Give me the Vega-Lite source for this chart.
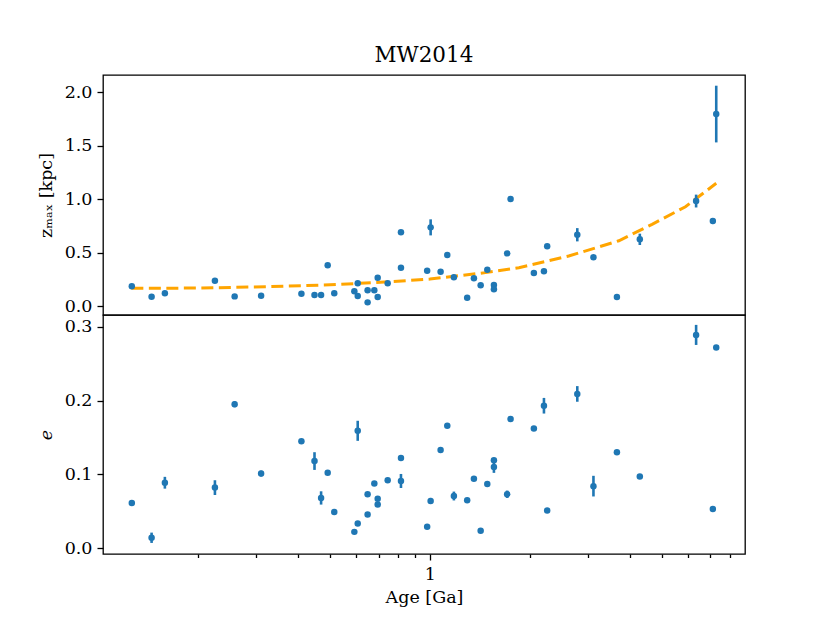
{
  "$schema": "https://vega.github.io/schema/vega-lite/v6.json",
  "description": "MW2014: z_max and eccentricity against age",
  "padding": {"left": 36, "top": 44, "right": 5, "bottom": 5},
  "background": "white",
  "bounds": "flush",
  "title": {
    "text": "MW2014",
    "font": "DejaVu Serif",
    "fontSize": 21.5,
    "fontWeight": "normal",
    "color": "black",
    "frame": "group",
    "anchor": "middle",
    "offset": 8
  },
  "config": {
    "view": {"stroke": "black", "strokeWidth": 1.3},
    "axis": {
      "labelFont": "DejaVu Serif",
      "labelFontSize": 17.5,
      "labelColor": "black",
      "titleFont": "DejaVu Serif",
      "titleFontSize": 17.5,
      "titleFontWeight": "normal",
      "titleColor": "black",
      "tickColor": "black",
      "tickWidth": 1.3,
      "tickSize": 6,
      "labelPadding": 5,
      "domain": false,
      "grid": false
    }
  },
  "datasets": {
    "stars": [
      {"age": 0.1264, "z": 0.184, "zerr": 0.01, "e": 0.061, "eerr": 0.002},
      {"age": 0.145, "z": 0.087, "zerr": 0.01, "e": 0.014, "eerr": 0.007},
      {"age": 0.159, "z": 0.119, "zerr": 0.01, "e": 0.0886, "eerr": 0.008},
      {"age": 0.225, "z": 0.237, "zerr": 0.01, "e": 0.082, "eerr": 0.01},
      {"age": 0.258, "z": 0.09, "zerr": 0.01, "e": 0.195, "eerr": 0.004},
      {"age": 0.31, "z": 0.096, "zerr": 0.01, "e": 0.101, "eerr": 0.004},
      {"age": 0.41, "z": 0.115, "zerr": 0.01, "e": 0.145, "eerr": 0.003},
      {"age": 0.449, "z": 0.103, "zerr": 0.01, "e": 0.118, "eerr": 0.012},
      {"age": 0.47, "z": 0.103, "zerr": 0.01, "e": 0.068, "eerr": 0.009},
      {"age": 0.492, "z": 0.38, "zerr": 0.015, "e": 0.102, "eerr": 0.002},
      {"age": 0.515, "z": 0.119, "zerr": 0.01, "e": 0.049, "eerr": 0.002},
      {"age": 0.592, "z": 0.137, "zerr": 0.01, "e": 0.022, "eerr": 0.003},
      {"age": 0.606, "z": 0.212, "zerr": 0.01, "e": 0.159, "eerr": 0.0136},
      {"age": 0.606, "z": 0.093, "zerr": 0.01, "e": 0.0335, "eerr": 0.002},
      {"age": 0.649, "z": 0.147, "zerr": 0.01, "e": 0.073, "eerr": 0.002},
      {"age": 0.649, "z": 0.034, "zerr": 0.01, "e": 0.0457, "eerr": 0.002},
      {"age": 0.68, "z": 0.147, "zerr": 0.01, "e": 0.0877, "eerr": 0.002},
      {"age": 0.696, "z": 0.265, "zerr": 0.01, "e": 0.067, "eerr": 0.002},
      {"age": 0.696, "z": 0.084, "zerr": 0.01, "e": 0.059, "eerr": 0.002},
      {"age": 0.746, "z": 0.212, "zerr": 0.01, "e": 0.092, "eerr": 0.002},
      {"age": 0.818, "z": 0.689, "zerr": 0.015, "e": 0.122, "eerr": 0.002},
      {"age": 0.818, "z": 0.358, "zerr": 0.01, "e": 0.091, "eerr": 0.0095},
      {"age": 0.981, "z": 0.33, "zerr": 0.01, "e": 0.029, "eerr": 0.002},
      {"age": 1.005, "z": 0.735, "zerr": 0.075, "e": 0.064, "eerr": 0.004},
      {"age": 1.077, "z": 0.321, "zerr": 0.01, "e": 0.133, "eerr": 0.002},
      {"age": 1.128, "z": 0.477, "zerr": 0.01, "e": 0.166, "eerr": 0.002},
      {"age": 1.181, "z": 0.268, "zerr": 0.01, "e": 0.0706, "eerr": 0.006},
      {"age": 1.295, "z": 0.078, "zerr": 0.01, "e": 0.065, "eerr": 0.002},
      {"age": 1.357, "z": 0.259, "zerr": 0.01, "e": 0.094, "eerr": 0.002},
      {"age": 1.422, "z": 0.193, "zerr": 0.01, "e": 0.0235, "eerr": 0.002},
      {"age": 1.489, "z": 0.339, "zerr": 0.01, "e": 0.087, "eerr": 0.002},
      {"age": 1.559, "z": 0.196, "zerr": 0.01, "e": 0.119, "eerr": 0.003},
      {"age": 1.559, "z": 0.156, "zerr": 0.01, "e": 0.11, "eerr": 0.008},
      {"age": 1.709, "z": 0.492, "zerr": 0.01, "e": 0.073, "eerr": 0.005},
      {"age": 1.75, "z": 1.0, "zerr": 0.015, "e": 0.175, "eerr": 0.002},
      {"age": 2.057, "z": 0.308, "zerr": 0.01, "e": 0.162, "eerr": 0.002},
      {"age": 2.206, "z": 0.324, "zerr": 0.01, "e": 0.193, "eerr": 0.0106},
      {"age": 2.256, "z": 0.558, "zerr": 0.01, "e": 0.051, "eerr": 0.002},
      {"age": 2.78, "z": 0.666, "zerr": 0.062, "e": 0.209, "eerr": 0.0106},
      {"age": 3.11, "z": 0.455, "zerr": 0.01, "e": 0.084, "eerr": 0.014},
      {"age": 3.66, "z": 0.084, "zerr": 0.01, "e": 0.13, "eerr": 0.002},
      {"age": 4.29, "z": 0.623, "zerr": 0.053, "e": 0.097, "eerr": 0.002},
      {"age": 6.34, "z": 0.981, "zerr": 0.06, "e": 0.289, "eerr": 0.0136},
      {"age": 7.12, "z": 0.794, "zerr": 0.028, "e": 0.053, "eerr": 0.002},
      {"age": 7.29, "z": 1.794, "zerr": 0.265, "e": 0.272, "eerr": 0.002}
    ],
    "fit": [
      {"age": 0.126, "z": 0.165},
      {"age": 0.2, "z": 0.168},
      {"age": 0.32, "z": 0.18},
      {"age": 0.5, "z": 0.198},
      {"age": 0.64, "z": 0.215},
      {"age": 0.8, "z": 0.232},
      {"age": 1.0, "z": 0.252},
      {"age": 1.47, "z": 0.312},
      {"age": 1.854, "z": 0.358},
      {"age": 2.62, "z": 0.467},
      {"age": 3.71, "z": 0.61},
      {"age": 4.67, "z": 0.763},
      {"age": 5.89, "z": 0.928},
      {"age": 7.29, "z": 1.147}
    ]
  },
  "spacing": 0,
  "resolve": {"scale": {"x": "independent", "y": "independent"}},
  "vconcat": [
    {
      "width": 642,
      "height": 240,
      "layer": [
        {
          "data": {"name": "fit"},
          "mark": {"type": "line", "color": "orange", "strokeWidth": 3, "strokeDash": [12, 5.5]},
          "encoding": {
            "x": {"field": "age", "type": "quantitative", "scale": {"type": "log", "domain": [0.1035, 8.9]}, "axis": null},
            "y": {"field": "z", "type": "quantitative", "title": "zₘₐₓ [kpc]", "scale": {"domain": [-0.084, 2.159]}}
          }
        },
        {
          "data": {"name": "stars"},
          "mark": {"type": "errorbar", "ticks": false, "color": "#1f77b4", "rule": {"strokeWidth": 2.6}},
          "encoding": {
            "x": {"field": "age", "type": "quantitative", "scale": {"type": "log", "domain": [0.1035, 8.9]}, "axis": null},
            "y": {"field": "z", "type": "quantitative", "title": "zₘₐₓ [kpc]", "scale": {"domain": [-0.084, 2.159]}},
            "yError": {"field": "zerr"}
          }
        },
        {
          "data": {"name": "stars"},
          "mark": {"type": "circle", "color": "#1f77b4", "size": 42, "opacity": 1},
          "encoding": {
            "x": {"field": "age", "type": "quantitative", "scale": {"type": "log", "domain": [0.1035, 8.9]}, "axis": null},
            "y": {
              "field": "z",
              "type": "quantitative",
              "title": "zₘₐₓ [kpc]",
              "scale": {"domain": [-0.084, 2.159]},
              "axis": {"values": [0, 0.5, 1, 1.5, 2], "format": ".1f", "titlePadding": 9}
            }
          }
        }
      ]
    },
    {
      "width": 642,
      "height": 239,
      "data": {"name": "stars"},
      "layer": [
        {
          "mark": {"type": "errorbar", "ticks": false, "color": "#1f77b4", "rule": {"strokeWidth": 2.6}},
          "encoding": {
            "x": {"field": "age", "type": "quantitative", "title": "Age [Ga]", "scale": {"type": "log", "domain": [0.1035, 8.9]}},
            "y": {"field": "e", "type": "quantitative", "title": "e", "scale": {"domain": [-0.008, 0.316]}},
            "yError": {"field": "eerr"}
          }
        },
        {
          "mark": {"type": "circle", "color": "#1f77b4", "size": 42, "opacity": 1},
          "encoding": {
            "x": {
              "field": "age",
              "type": "quantitative",
              "title": "Age [Ga]",
              "scale": {"type": "log", "domain": [0.1035, 8.9]},
              "axis": {
                "values": [0.2, 0.3, 0.4, 0.5, 0.6, 0.7, 0.8, 0.9, 1, 2, 3, 4, 5, 6, 7, 8],
                "labelExpr": "datum.value == 1 ? '1' : ''",
                "labelOverlap": false,
                "labelFlush": false,
                "tickSize": {"condition": {"test": "datum.value == 1", "value": 6}, "value": 3.5},
                "titlePadding": 6
              }
            },
            "y": {
              "field": "e",
              "type": "quantitative",
              "title": "e",
              "scale": {"domain": [-0.008, 0.316]},
              "axis": {"titleFontStyle": "italic", "values": [0, 0.1, 0.2, 0.3], "format": ".1f", "titlePadding": 9}
            }
          }
        }
      ]
    }
  ]
}
